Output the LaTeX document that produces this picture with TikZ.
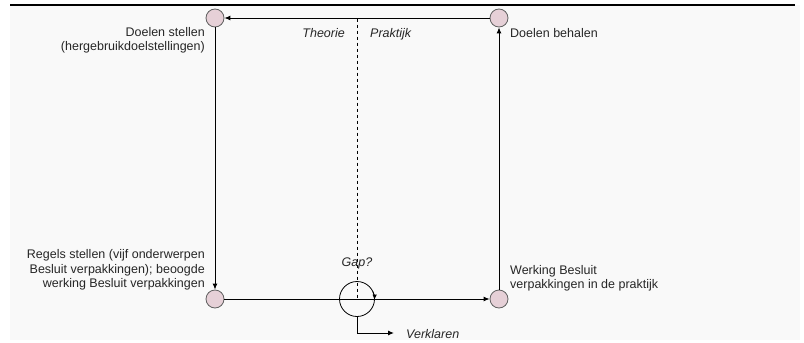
\documentclass[tikz,border=0pt]{standalone}
\usepackage{fontspec}
\setmainfont{Liberation Sans}
\usetikzlibrary{arrows.meta,calc}
\definecolor{bgfill}{HTML}{F9F9F9}
\definecolor{dotfill}{HTML}{E6D0D7}
\definecolor{dotdraw}{HTML}{606060}
\definecolor{txt}{HTML}{262626}
\tikzset{
  dot/.style={circle,draw=dotdraw,fill=dotfill,line width=0.8pt,minimum size=18pt,inner sep=0pt},
  lbl/.style={inner sep=0pt,text=txt,font=\fontsize{12.5}{14.5}\selectfont},
  ilbl/.style={lbl,font=\fontsize{12.5}{14.5}\selectfont\itshape},
  conn/.style={draw=black,line width=1pt,-{Latex[length=6pt,width=5pt]}},
  plain/.style={draw=black,line width=1pt},
}
\begin{document}
\begin{tikzpicture}[x=1pt,y=-1pt]
\useasboundingbox (0,0) rectangle (804,343);
\fill[bgfill] (10,5) rectangle (800,340);
\draw[line width=1.3pt] (10,5) -- (795,5);
\node[dot] (tl) at (215,18) {};
\node[dot] (tr) at (499,18) {};
\node[dot] (bl) at (215,299) {};
\node[dot] (br) at (499,299) {};
\node[circle,draw=black,line width=0.8pt,minimum size=35pt,inner sep=0pt] (gap) at (357,299) {};
\coordinate (dtop) at (357,18.5);
\draw[dashed,line width=0.8pt,dash pattern=on 3pt off 3pt] (dtop) -- (gap.center);
\draw[conn] (tr) -- (tl);
\draw[conn] (tl) -- (bl);
\draw[conn] (br) -- (tr);
\draw[conn] (bl) -- (br);
\draw[line width=0.8pt,-{Latex[length=5pt,width=4.5pt]}] ($(gap.center)+(-25:17.5)$) arc[start angle=-25,end angle=2,radius=17.5];
\coordinate (vk) at (357,333);
\node[ilbl,anchor=west] (verk) at (406,334) {Verklaren};
\draw[line width=1pt,-{Latex[length=6pt,width=5pt]}] (gap.south) -- (vk) -- (394,333);
\node[lbl,anchor=east,align=right] (ds) at (205,40.5) {Doelen stellen\\(hergebruikdoelstellingen)};
\node[lbl,anchor=west] (db) at (510,33) {Doelen behalen};
\node[ilbl,anchor=east] (th) at (345,33) {Theorie};
\node[ilbl,anchor=west] (pr) at (370,34) {Praktijk};
\node[lbl,anchor=east,align=right] (rs) at (205,270) {Regels stellen (vijf onderwerpen\\Besluit verpakkingen); beoogde\\werking Besluit verpakkingen};
\node[lbl,anchor=west,align=left] (wb) at (510,278.5) {Werking Besluit\\verpakkingen in de praktijk};
\node[ilbl] (gp) at (357,263) {Gap?};
\end{tikzpicture}
\end{document}
